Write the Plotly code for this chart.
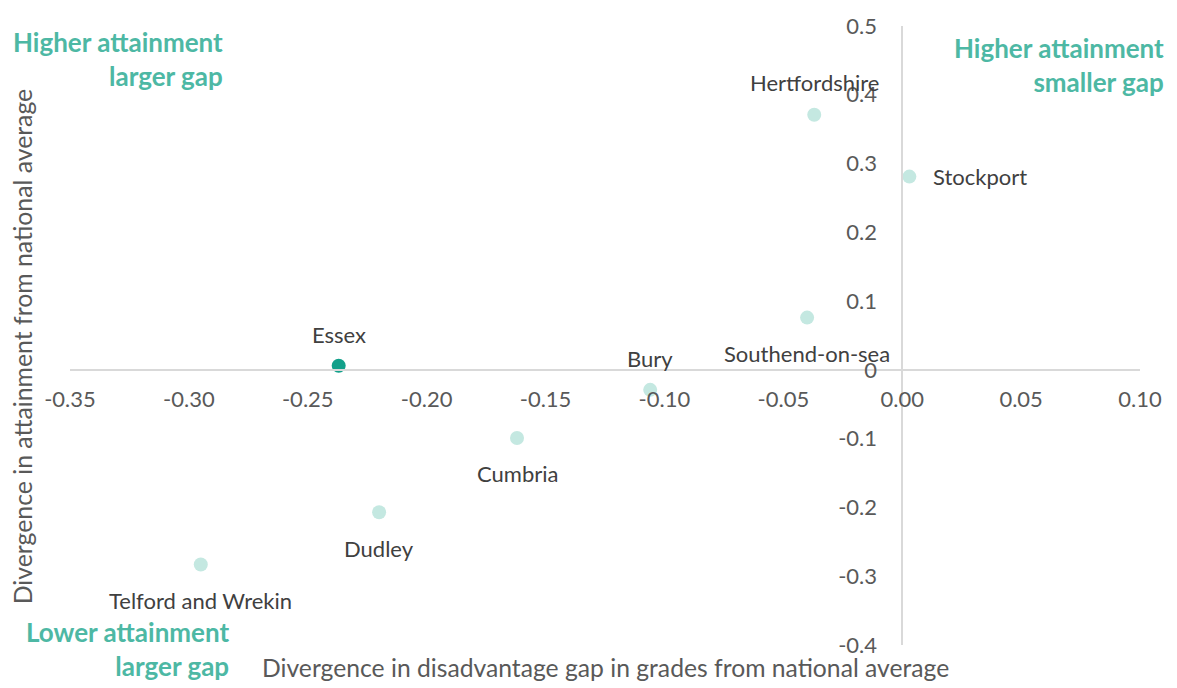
import plotly.graph_objects as go

# data
areas = ['Hertfordshire', 'Stockport', 'Southend-on-sea', 'Essex', 'Bury',
         'Cumbria', 'Dudley', 'Telford and Wrekin']
gap_divergence = [-0.037, 0.003, -0.040, -0.237, -0.106, -0.162, -0.220, -0.295]
attainment_divergence = [0.371, 0.281, 0.076, 0.006, -0.029, -0.099, -0.207, -0.283]

x_ticks = [-0.35, -0.30, -0.25, -0.20, -0.15, -0.10, -0.05, 0.00, 0.05, 0.10]
x_ticktext = ['-0.35', '-0.30', '-0.25', '-0.20', '-0.15', '-0.10', '-0.05',
              '0.00', '0.05', '0.10']
y_ticks = [0.5, 0.4, 0.3, 0.2, 0.1, 0, -0.1, -0.2, -0.3, -0.4]
y_ticktext = ['0.5', '0.4', '0.3', '0.2', '0.1', '0', '-0.1', '-0.2', '-0.3', '-0.4']

highlight = 'Essex'

# label placement: anchor and pixel offsets from each point
label_pos = {
    'Hertfordshire': ('center', 0, 32),
    'Stockport': ('left', 22, 0),
    'Southend-on-sea': ('center', 0, -36),
    'Essex': ('center', 0, 31),
    'Bury': ('center', 0, 31),
    'Cumbria': ('center', 0, -36),
    'Dudley': ('center', 0, -36),
    'Telford and Wrekin': ('center', 0, -36),
}

FONT = 'Lato, Calibri, sans-serif'
TEAL = '#4db8a4'

fig = go.Figure()
fig.add_trace(go.Scatter(
    x=gap_divergence,
    y=attainment_divergence,
    mode='markers',
    marker=dict(
        size=14,
        color=['#12a08a' if a == highlight else '#c4e8e1' for a in areas],
    ),
    hovertext=areas,
    showlegend=False,
))

for name, gx, ay in zip(areas, gap_divergence, attainment_divergence):
    anchor, dx, dy = label_pos[name]
    fig.add_annotation(x=gx, y=ay, text=name, showarrow=False,
                       xanchor=anchor, xshift=dx, yshift=dy,
                       font=dict(family=FONT, size=22, color='#404040'))

# plot area in pixels: x 70..1140, y 15..645
def px(x):
    return (x - 70) / 1070


def py(y):
    return (645 - y) / 630


quadrants = [
    ('Higher attainment<br>larger gap', 225, 49),
    ('Higher attainment<br>smaller gap', 1166, 55),
    ('Lower attainment<br>larger gap', 231, 649),
]
for text, x, y in quadrants:
    fig.add_annotation(xref='paper', yref='paper', x=px(x), y=py(y),
                       xanchor='right', yanchor='middle', align='right',
                       text='<b>' + text + '</b>', showarrow=False,
                       font=dict(family=FONT, size=26, color=TEAL))

fig.add_annotation(xref='paper', yref='paper', x=px(605), y=py(668),
                   xanchor='center', yanchor='middle',
                   text='Divergence in disadvantage gap in grades from national average',
                   showarrow=False,
                   font=dict(family=FONT, size=24.7, color='#595959'))
fig.add_annotation(xref='paper', yref='paper', x=px(22), y=py(341),
                   xanchor='center', yanchor='middle',
                   text='Divergence in attainment from national average',
                   textangle=-90, showarrow=False,
                   font=dict(family=FONT, size=24.8, color='#595959'))

fig.update_layout(
    width=1177, height=688,
    margin=dict(l=70, r=37, t=15, b=43),
    plot_bgcolor='white', paper_bgcolor='white',
    font=dict(family=FONT, size=22, color='#595959'),
    xaxis=dict(
        range=[-0.35, 0.10], tickvals=x_ticks, ticktext=x_ticktext,
        showgrid=False, zeroline=False,
        showline=True, linecolor='#d9d9d9', linewidth=1.5,
        anchor='free', position=0.4 / 0.9,
        ticks='', ticklabelstandoff=10,
    ),
    yaxis=dict(
        range=[-0.4, 0.5], tickvals=y_ticks, ticktext=y_ticktext,
        showgrid=False, zeroline=False,
        showline=True, linecolor='#d9d9d9', linewidth=1.5,
        anchor='free', position=0.35 / 0.45,
        ticks='', ticklabelstandoff=20,
    ),
)

fig.write_html('out.html', config={'displayModeBar': False},
               post_script="document.body.style.margin = '0';")
